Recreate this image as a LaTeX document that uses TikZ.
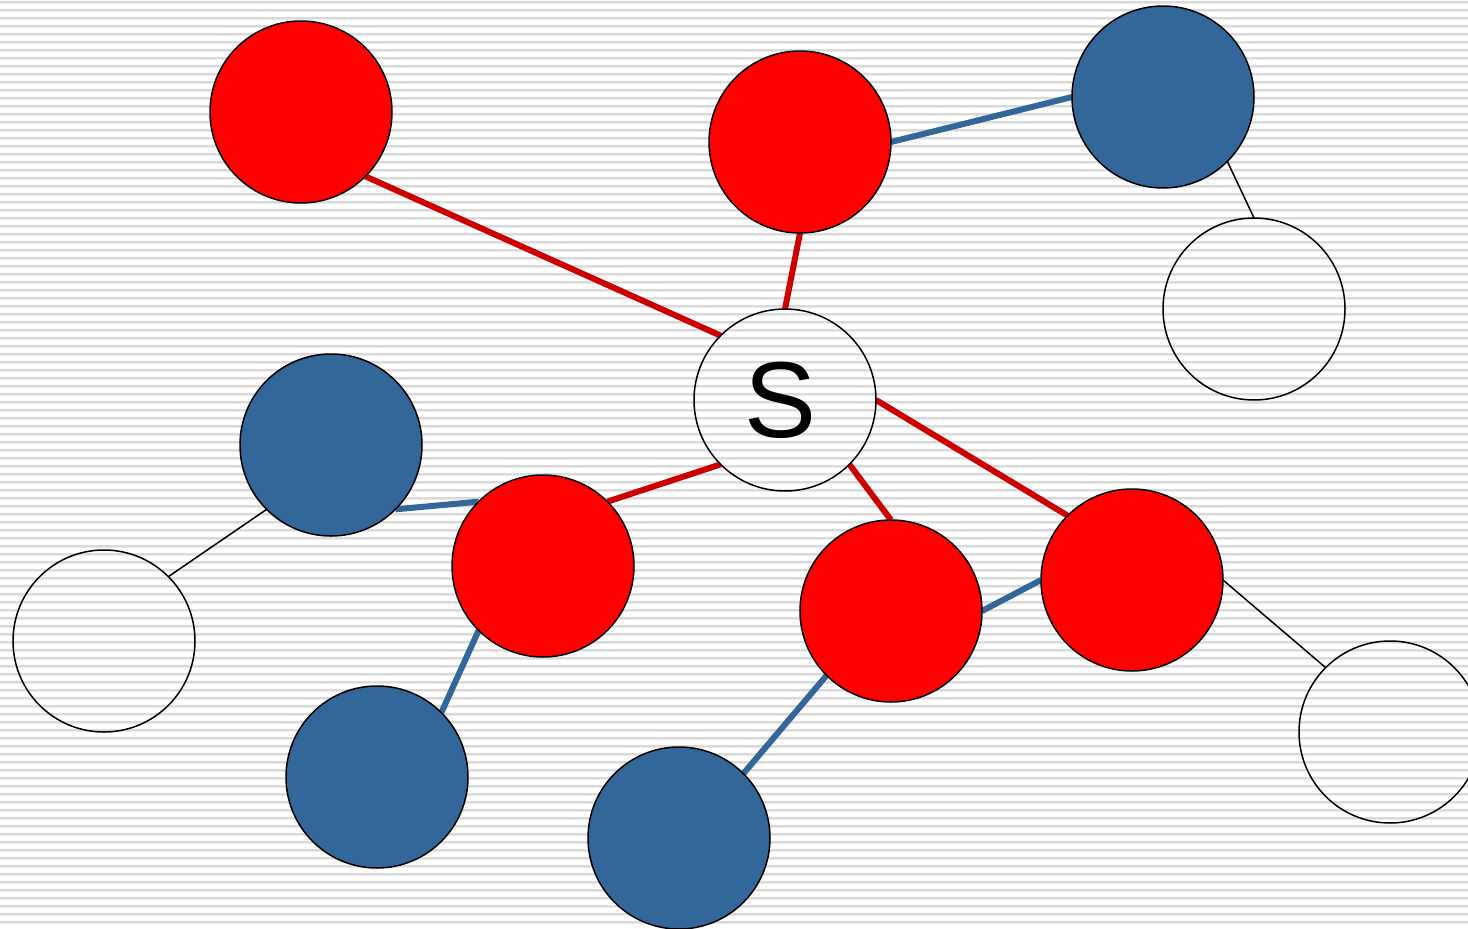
\documentclass[tikz,border=0pt]{standalone}
\usepackage{fontspec}
\setmainfont{Liberation Sans}
\pgfdeclarelayer{bg}
\pgfdeclarelayer{edges}
\pgfsetlayers{bg,edges,main}
\definecolor{nodered}{RGB}{255,0,0}
\definecolor{edgered}{RGB}{204,0,0}
\definecolor{nodeblue}{RGB}{51,102,153}
\definecolor{stripeA}{RGB}{218,218,218}
\definecolor{stripeB}{RGB}{234,234,234}
\tikzset{
  vtx/.style={circle, draw=black, line width=1.5pt, minimum size=182pt, inner sep=0pt, outer sep=0pt},
  rednode/.style={vtx, fill=nodered},
  bluenode/.style={vtx, fill=nodeblue},
  whitenode/.style={vtx},
  redlink/.style={draw=edgered, line width=6pt},
  bluelink/.style={draw=nodeblue, line width=6pt},
  thinlink/.style={draw=black, line width=1.5pt}
}
\begin{document}
\begin{tikzpicture}[x=1pt,y=-1pt]
\useasboundingbox (0,0) rectangle (1468,929);
\begin{pgfonlayer}{bg}
  \fill[white] (0,0) rectangle (1468,929);
  \foreach \i in {0,...,116}{
    \fill[stripeA] (0,{1+8*\i}) rectangle (1468,{3+8*\i});
    \fill[stripeB] (0,{3+8*\i}) rectangle (1468,{4+8*\i});
  }
\end{pgfonlayer}
% nodes
\node[rednode]   (R1) at (301,112) {};
\node[rednode]   (R2) at (800,142) {};
\node[bluenode]  (B1) at (1163,97) {};
\node[whitenode] (W1) at (1254,309) {};
\node[whitenode] (S)  at (785,400) {\hspace*{-8pt}\fontsize{108}{108}\selectfont S};
\node[bluenode]  (B2) at (331,445) {};
\node[whitenode] (W2) at (104,641) {};
\node[rednode]   (R3) at (543,566) {};
\node[rednode]   (R4) at (891,611) {};
\node[rednode]   (R5) at (1132,580) {};
\node[whitenode] (W3) at (1390,732) {};
\node[bluenode]  (B3) at (377,777) {};
\node[bluenode]  (B4) at (679,838) {};
% edges
\begin{pgfonlayer}{edges}
  \draw[redlink] (R1.-45) -- (S.135);
  \draw[redlink] (R2.-90) -- (S.90);
  \draw[redlink] (S.-135) -- (R3.45);
  \draw[redlink] (S.-45) -- (R4.90);
  \draw[redlink] (S.0) -- (R5.135);
  \draw[bluelink] (R2.0) -- (B1.180);
  \draw[bluelink] (B2.-45) -- (R3.135);
  \draw[bluelink] (R3.-135) -- (B3.45);
  \draw[bluelink] (R4.-135) -- (B4.45);
  \draw[bluelink] (R4.0) -- (R5.180);
  \draw[thinlink] (B1.-45) -- (W1.90);
  \draw[thinlink] (B2.-135) -- (W2.45);
  \draw[thinlink] (R5.0) -- (W3.135);
\end{pgfonlayer}
\end{tikzpicture}
\end{document}
